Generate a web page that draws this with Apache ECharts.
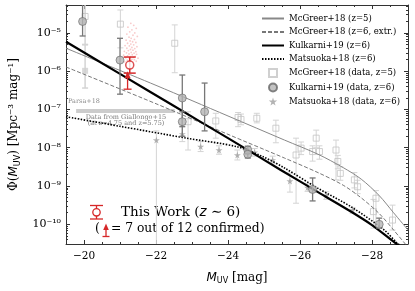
<!DOCTYPE html>
<html><head><meta charset="utf-8">
<script src="https://cdn.jsdelivr.net/npm/echarts@6/dist/echarts.min.js"></script>
<style>html,body{margin:0;padding:0;background:#fff}#c{width:415px;height:291px}</style>
</head><body><div id="c"></div>
<script>
// ---------- data (M_UV, log10 Phi) ----------
// model curves
const mcg5M = [-19.5, -22, -24, -25.57, -26.5, -27.2, -27.7, -28.2, -28.6, -29];
const mcg5L = [-5.40, -6.37, -7.17, -7.80, -8.17, -8.52, -8.82, -9.25, -9.70, -10.15];
const mcg6M = [-19.5, -22, -24, -25.57, -26.5, -27.2, -27.7, -28.2, -28.6, -29];
const mcg6L = [-5.89, -6.85, -7.65, -8.27, -8.65, -8.98, -9.31, -9.72, -10.15, -10.6];
const kulM = [-19.5, -21, -22.5, -24, -25.5, -26.5, -27.4, -28.0, -28.5, -29];
const kulL = [-5.23, -6.07, -6.91, -7.75, -8.60, -9.16, -9.66, -10.02, -10.38, -10.75];
const matM = [-19.5, -21, -22.85, -24.23, -24.96, -25.57, -26.48, -27.43, -28.34, -28.70, -29];
const matL = [-7.19, -7.44, -7.75, -7.97, -8.23, -8.53, -9.05, -9.55, -10.15, -10.49, -10.7];
// McGreer+18 data z=5
const mdM  = [-21.01, -22.52, -22.89, -23.66, -24.28, -24.36, -24.80, -25.33, -25.89, -26.03, -26.35, -26.45, -26.54, -27.00, -27.05, -27.12, -27.51, -27.60, -28.04, -28.11, -28.57];
const mdL  = [-4.77, -5.27, -7.32, -7.30, -7.21, -7.26, -7.23, -7.49, -8.19, -8.01, -8.10, -7.75, -8.10, -8.06, -8.36, -8.67, -8.84, -9.02, -9.67, -9.32, -9.89];
const mdLo = [-5.39, -6.04, -8.06, -7.75, -7.45, -7.40, -7.35, -7.87, -9.45, -8.18, -8.35, -8.00, -8.30, -8.84, -8.55, -8.85, -9.05, -9.20, -10.10, -9.93, -10.15];
const mdHi = [-4.40, -4.79, -7.06, -7.10, -7.08, -7.12, -7.10, -7.28, -7.75, -7.85, -7.95, -7.54, -7.95, -7.80, -8.20, -8.50, -8.65, -8.85, -9.35, -9.12, -9.50];
// Kulkarni+19 data z=6
const kdM  = [-19.96, -21.0, -22.73, -22.73, -23.35, -24.55, -24.55, -26.35, -28.20];
const kdL  = [-4.70, -5.71, -6.70, -7.32, -7.06, -8.06, -8.17, -9.09, -10.0];
const kdLo = [-5.08, -6.60, -7.45, -7.70, -7.56, -8.16, -8.27, -9.39, -10.10];
const kdHi = [-4.0, -5.14, -6.10, -7.06, -6.31, -7.96, -8.07, -8.79, -9.84];
// Matsuoka+18 data z=6
const sdM  = [-22.01, -22.73, -23.24, -23.75, -24.26, -24.74, -25.24, -25.72, -26.21, -26.73, -27.46];
const sdL  = [-7.80, -7.64, -7.97, -8.06, -8.19, -8.12, -8.32, -8.87, -9.04, -9.25, -9.63];
const sdLo = [-11.5, -7.84, -8.10, -8.17, -8.32, -8.22, -8.42, -9.16, -9.14, -9.35, -9.71];
const sdHi = [-7.56, -7.40, -7.84, -7.95, -8.06, -8.02, -8.22, -8.66, -8.94, -9.15, -9.56];
// Giallongo+15 points
const gdM  = [-20.03, -20.03];
const gdL  = [-4.57, -5.99];
const gdLo = [-5.30, -6.44];
const gdHi = [-4.0, -5.31];
// Parsa+18 band
const parsaM = [-19.78, -22.52];
const parsaL = [-7.04, -7.04];
// This work
const twM = [-21.27], twL = [-5.84], twLo = [-6.05], twHi = [-5.63];
const arrowM = [-21.21], arrowL = [-6.47];
const cloudM = [-21.30,-21.38,-21.22,-21.45,-21.33,-21.27,-21.41,-21.19,-21.36,-21.48,-21.25,-21.31,-21.40,-21.17,
  -21.28,-21.35,-21.44,-21.21,-21.30,-21.38,-21.14,-21.26,-21.47,-21.33,-21.19,-21.41,-21.29,-21.36,-21.23,-21.12,-21.44,
  -21.31,-21.18,-21.39,-21.25,-21.46,-21.34,-21.10,-21.21,-21.42,-21.29,-21.37,-21.16,-21.50,-21.26,-21.33,-21.40,-21.20,-21.28,-21.45,-21.13,-21.36,-21.24];
const cloudL = [-4.75,-4.80,-4.85,-4.88,-4.92,-4.97,-5.00,-5.03,-5.06,-5.09,-5.11,-5.14,-5.17,-5.19,
  -5.21,-5.23,-5.25,-5.27,-5.29,-5.31,-5.33,-5.34,-5.36,-5.38,-5.40,-5.41,-5.43,-5.45,-5.46,-5.48,-5.49,
  -5.51,-5.52,-5.53,-5.55,-5.56,-5.57,-5.58,-5.60,-5.61,-5.62,-5.64,-5.65,-5.66,-5.67,-5.69,-5.70,-5.71,-5.73,-5.74,-5.75,-5.77,-5.78];

// ---------- helpers ----------
const P = v => Math.pow(10, v);
const pts = (M, L) => M.map((m, i) => [m, P(L[i])]);
const errs = (M, lo, hi) => M.map((m, i) => [m, P(lo[i]), P(hi[i])]);
const SERIF = 'DejaVu Serif';
const RED = '#d62728';
const supMap = {'-':'\u207B','0':'\u2070','1':'\u00B9','2':'\u00B2','3':'\u00B3','4':'\u2074','5':'\u2075','6':'\u2076','7':'\u2077','8':'\u2078','9':'\u2079'};
const sup = s => String(s).split('').map(c => supMap[c]).join('');

function errRender(capW, color, lw) {
  return function (params, api) {
    const x = api.value(0);
    const p0 = api.coord([x, api.value(1)]);
    const p1 = api.coord([x, api.value(2)]);
    const h = capW / 2;
    const st = {stroke: color, lineWidth: lw};
    return {type: 'group', children: [
      {type: 'line', shape: {x1: p0[0], y1: p0[1], x2: p1[0], y2: p1[1]}, style: st},
      {type: 'line', shape: {x1: p0[0] - h, y1: p0[1], x2: p0[0] + h, y2: p0[1]}, style: st},
      {type: 'line', shape: {x1: p1[0] - h, y1: p1[1], x2: p1[0] + h, y2: p1[1]}, style: st}
    ]};
  };
}
function errSeries(name, data, capW, color, lw, z) {
  return {name: name, type: 'custom', data: data, encode: {x: 0, y: [1, 2]}, clip: true, z: z,
    renderItem: errRender(capW, color, lw), silent: true};
}

const STAR = 'path://M50,0 L61,35 L98,35 L68,57 L79,91 L50,70 L21,91 L32,57 L2,35 L39,35 Z';
const XMIN = -29, XMAX = -19.5, YMIN = 3.05e-11, YMAX = 5.37e-5;
const axisLineStyle = {color: '#333', width: 1};

const xBase = {type: 'value', inverse: true, min: XMIN, max: XMAX, gridIndex: 0, splitLine: {show: false}};
const yBase = {type: 'log', logBase: 10, min: YMIN, max: YMAX, splitLine: {show: false}};
const noDot = {opacity: 0};

const option = {
  animation: false,
  backgroundColor: '#fff',
  grid: {left: 66, right: 7, top: 5, bottom: 47},
  xAxis: [
    Object.assign({}, xBase, {position: 'bottom',
      axisLine: {show: true, lineStyle: axisLineStyle},
      axisTick: {show: true, inside: true, length: 4, lineStyle: {color: '#333'}},
      axisLabel: {show: true, margin: 7, fontFamily: SERIF, fontSize: 10.5, color: '#000',
        formatter: v => (Number.isInteger(v) && v % 2 === 0) ? '\u2212' + Math.abs(v) : ''},
      name: '{m|M}{s|UV}{a| [mag]}', nameLocation: 'middle', nameGap: 26,
      nameTextStyle: {rich: {
        a: {fontFamily: SERIF, fontSize: 12, color: '#000'},
        m: {fontFamily: 'DejaVu Sans', fontStyle: 'italic', fontSize: 12, color: '#000'},
        s: {fontFamily: 'DejaVu Sans', fontSize: 8, color: '#000', verticalAlign: 'top', padding: [7, 0, 0, 0]}
      }}}),
    Object.assign({}, xBase, {position: 'bottom', interval: 0.5,
      axisLine: {show: false}, axisLabel: {show: false},
      axisTick: {show: true, inside: true, length: 2, lineStyle: {color: '#333'}}}),
    Object.assign({}, xBase, {position: 'top',
      axisLine: {show: true, lineStyle: axisLineStyle}, axisLabel: {show: false},
      axisTick: {show: true, inside: true, length: 4, lineStyle: {color: '#333'}}}),
    Object.assign({}, xBase, {position: 'top', interval: 0.5,
      axisLine: {show: false}, axisLabel: {show: false},
      axisTick: {show: true, inside: true, length: 2, lineStyle: {color: '#333'}}})
  ],
  yAxis: [
    Object.assign({}, yBase, {position: 'left',
      axisLine: {show: true, lineStyle: axisLineStyle},
      axisTick: {show: true, inside: true, length: 4, lineStyle: {color: '#333'}},
      minorTick: {show: true, splitNumber: 9, length: 2, lineStyle: {color: '#333'}},
      axisLabel: {show: true, margin: 5, fontFamily: SERIF, fontSize: 11, color: '#000',
        formatter: v => { const e = Math.log10(v); const n = Math.round(e);
          return Math.abs(e - n) < 1e-6 ? '10' + sup(n) : ''; }},
      name: '{a|\u03A6(}{m|M}{s|UV}{a|) [Mpc\u207B\u00B3 mag\u207B\u00B9]}', nameLocation: 'middle', nameGap: 43,
      nameTextStyle: {rich: {
        a: {fontFamily: SERIF, fontSize: 12, color: '#000'},
        m: {fontFamily: 'DejaVu Sans', fontStyle: 'italic', fontSize: 12, color: '#000'},
        s: {fontFamily: 'DejaVu Sans', fontSize: 8, color: '#000', verticalAlign: 'top', padding: [7, 0, 0, 0]}
      }}}),
    Object.assign({}, yBase, {position: 'right',
      axisLine: {show: true, lineStyle: axisLineStyle},
      axisTick: {show: true, inside: true, length: 4, lineStyle: {color: '#333'}},
      minorTick: {show: true, splitNumber: 9, length: 2, lineStyle: {color: '#333'}},
      axisLabel: {show: false}})
  ],
  legend: {
    left: 261, top: 14, orient: 'vertical', itemWidth: 22, itemHeight: 8, itemGap: 4.5,
    selectedMode: false, padding: 0,
    textStyle: {fontFamily: SERIF, fontSize: 8.5, color: '#000', lineHeight: 8},
    data: [
      {name: 'McGreer+18 (z=5)', itemStyle: noDot},
      {name: 'McGreer+18 (z=6, extr.)', itemStyle: noDot},
      {name: 'Kulkarni+19 (z=6)', itemStyle: noDot},
      {name: 'Matsuoka+18 (z=6)', itemStyle: noDot},
      {name: 'McGreer+18 (data, z=5)', icon: 'path://M0,0H10V10H0Z'},
      {name: 'Kulkarni+19 (data, z=6)', icon: 'circle'},
      {name: 'Matsuoka+18 (data, z=6)', icon: STAR}
    ]
  },
  series: [
    errSeries('mcgErr', errs(mdM, mdLo, mdHi), 6, '#d4d4d4', 1, 1),
    errSeries('matErr', errs(sdM, sdLo, sdHi), 6, '#d4d4d4', 1, 1),
    errSeries('gialErr', errs(gdM, gdLo, gdHi), 6, '#d4d4d4', 1.5, 1),
    {name: 'McGreer+18 (data, z=5)', type: 'scatter', data: pts(mdM, mdL), symbol: 'rect', symbolSize: 6, z: 2,
      itemStyle: {color: 'rgba(255,255,255,0)', borderColor: '#c4c4c4', borderWidth: 1}},
    {name: 'Matsuoka+18 (data, z=6)', type: 'scatter', data: pts(sdM, sdL), symbol: STAR, symbolSize: 7, z: 2,
      itemStyle: {color: '#a0a0a0'}},
    {name: 'gial', type: 'scatter', data: [[gdM[0], P(gdL[0])]], symbol: 'rect', symbolSize: 6, z: 2,
      itemStyle: {color: 'rgba(255,255,255,0)', borderColor: '#c4c4c4', borderWidth: 1}},
    {name: 'gial2', type: 'scatter', data: [[gdM[1], P(gdL[1])]], symbol: 'rect', symbolSize: 6, z: 2,
      itemStyle: {color: '#cfcfcf'}},
    {name: 'parsa', type: 'line', data: pts(parsaM, parsaL), symbol: 'none', z: 2,
      lineStyle: {color: '#cccccc', width: 4}},
    {name: 'McGreer+18 (z=5)', type: 'line', data: pts(mcg5M, mcg5L), symbol: 'none', smooth: 0.3, z: 3,
      itemStyle: {color: '#888'}, lineStyle: {color: '#888', width: 1}},
    {name: 'McGreer+18 (z=6, extr.)', type: 'line', data: pts(mcg6M, mcg6L), symbol: 'none', smooth: 0.3, z: 3,
      itemStyle: {color: '#777'}, lineStyle: {color: '#777', width: 1, type: [4, 2]}},
    {name: 'Kulkarni+19 (z=6)', type: 'line', data: pts(kulM, kulL), symbol: 'none', smooth: 0.3, z: 3,
      itemStyle: {color: '#000'}, lineStyle: {color: '#000', width: 2.2}},
    {name: 'Matsuoka+18 (z=6)', type: 'line', data: pts(matM, matL), symbol: 'none', smooth: 0.3, z: 3,
      itemStyle: {color: '#000'}, lineStyle: {color: '#000', width: 1.6, type: [1.5, 1.5]}},
    errSeries('kulErr', errs(kdM, kdLo, kdHi), 6, '#777', 1.3, 4),
    {name: 'Kulkarni+19 (data, z=6)', type: 'scatter', data: pts(kdM, kdL), symbol: 'circle', symbolSize: 8, z: 5,
      itemStyle: {color: '#b4b4b4', borderColor: '#666', borderWidth: 0.8}},
    {name: 'cloud', type: 'scatter', data: pts(cloudM, cloudL), symbol: 'circle', symbolSize: 1.8, z: 6,
      itemStyle: {color: 'rgba(230,70,70,0.35)'}},
    errSeries('twErr', errs(twM, twLo, twHi), 12, RED, 1.5, 7),
    {name: 'tw', type: 'scatter', data: pts(twM, twL), symbol: 'circle', symbolSize: 8, z: 8,
      itemStyle: {color: '#fff', borderColor: RED, borderWidth: 1.5}},
    {name: 'arrow', type: 'custom', data: pts(arrowM, arrowL), encode: {x: 0, y: 1}, z: 8, silent: true,
      renderItem: (params, api) => {
        const p = api.coord([api.value(0), api.value(1)]);
        return {type: 'group', children: [
          {type: 'line', shape: {x1: p[0] - 4, y1: p[1], x2: p[0] + 4, y2: p[1]}, style: {stroke: RED, lineWidth: 1.3}},
          {type: 'line', shape: {x1: p[0], y1: p[1], x2: p[0], y2: p[1] - 12}, style: {stroke: RED, lineWidth: 1.3}},
          {type: 'polygon', shape: {points: [[p[0] - 3, p[1] - 11], [p[0] + 3, p[1] - 11], [p[0], p[1] - 18]]}, style: {fill: RED}}
        ]};
      }}
  ],
  graphic: [
    {type: 'text', x: 68, y: 101, style: {text: 'Parsa+18', font: '6.5px "DejaVu Serif"', fill: '#888', verticalAlign: 'middle'}},
    {type: 'text', x: 126, y: 117, style: {text: 'Data from Giallongo+15', font: '6.5px "DejaVu Serif"', fill: '#777', align: 'center', verticalAlign: 'middle'}},
    {type: 'text', x: 126, y: 123.5, style: {text: '(at z=4.75 and z=5.75)', font: '6.5px "DejaVu Serif"', fill: '#777', align: 'center', verticalAlign: 'middle'}},
    // This Work legend
    {type: 'line', shape: {x1: 96.5, y1: 205.5, x2: 96.5, y2: 219}, style: {stroke: RED, lineWidth: 1.3}},
    {type: 'line', shape: {x1: 90, y1: 205.5, x2: 103, y2: 205.5}, style: {stroke: RED, lineWidth: 1.3}},
    {type: 'line', shape: {x1: 90, y1: 219, x2: 103, y2: 219}, style: {stroke: RED, lineWidth: 1.3}},
    {type: 'circle', shape: {cx: 96.5, cy: 212.3, r: 3.7}, style: {fill: '#fff', stroke: RED, lineWidth: 1.3}},
    {type: 'text', x: 121, y: 212.5, style: {text: '{a|This Work (}{z|z}{a| \u223C 6)}', verticalAlign: 'middle',
      rich: {a: {fontFamily: SERIF, fontSize: 13.5, fill: '#000'}, z: {fontFamily: 'DejaVu Sans', fontStyle: 'italic', fontSize: 13.5, fill: '#000'}}}},
    {type: 'text', x: 95, y: 229, style: {text: '(', font: '12.3px "DejaVu Serif"', fill: '#000', verticalAlign: 'middle'}},
    {type: 'line', shape: {x1: 102.5, y1: 236.5, x2: 109.5, y2: 236.5}, style: {stroke: RED, lineWidth: 1.3}},
    {type: 'line', shape: {x1: 106, y1: 236.5, x2: 106, y2: 229}, style: {stroke: RED, lineWidth: 1.3}},
    {type: 'polygon', shape: {points: [[103.2, 230], [108.8, 230], [106, 223.5]]}, style: {fill: RED}},
    {type: 'text', x: 111, y: 229, style: {text: '= 7 out of 12 confirmed)', font: '12.3px "DejaVu Serif"', fill: '#000', verticalAlign: 'middle'}}
  ]
};
const chart = echarts.init(document.getElementById('c'), null, {renderer: 'canvas'});
chart.setOption(option);
</script></body></html>
